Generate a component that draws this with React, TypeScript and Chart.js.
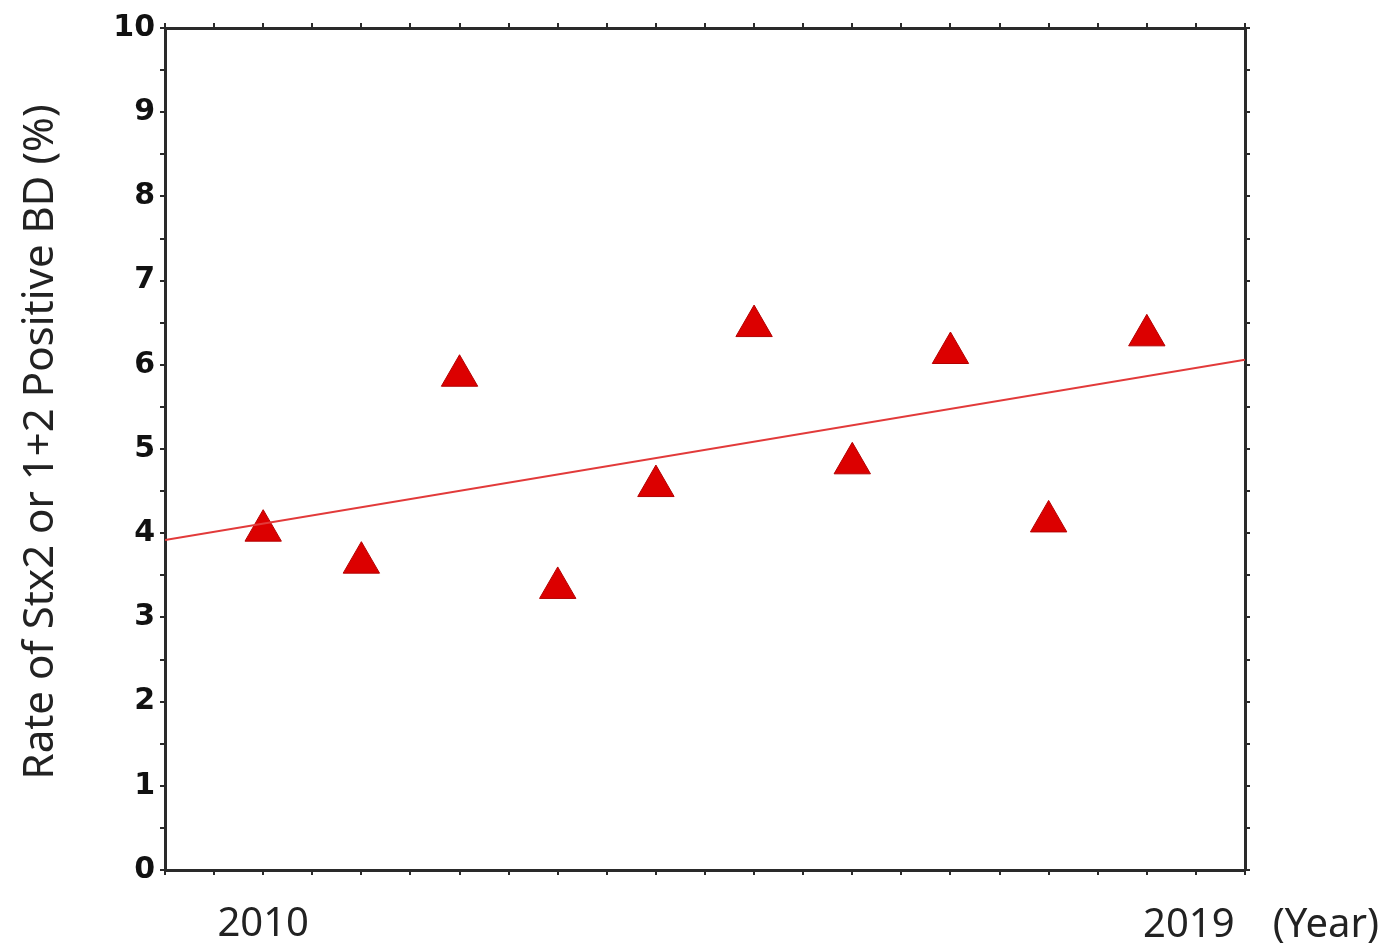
import React, { useEffect, useRef } from "react";
import { Chart, registerables } from "chart.js";

Chart.register(...registerables);

const years = [2010, 2011, 2012, 2013, 2014, 2015, 2016, 2017, 2018, 2019];
const rates = [4.03, 3.65, 5.87, 3.35, 4.56, 6.46, 4.83, 6.14, 4.14, 6.35];
const trendX = [2009, 2020];
const trendY = [3.92, 6.06];
const firstYearLabel = 2010;
const lastYearLabel = 2019;
const yTicks = [0, 1, 2, 3, 4, 5, 6, 7, 8, 9, 10];
const yTitle = "Rate of Stx2 or 1+2 Positive BD (%)";
const xUnit = "(Year)";

const AXIS = "#2a2a2a";

const textPlugin = {
  id: "extraText",
  afterDraw(chart: any) {
    const { ctx, chartArea } = chart;
    const xs = chart.scales.x;
    const base = chartArea.bottom + 67;
    ctx.save();
    ctx.font = '40px "Noto Sans"';
    ctx.fillStyle = "#222";
    ctx.textBaseline = "alphabetic";
    ctx.textAlign = "center";
    ctx.fillText(String(lastYearLabel), xs.getPixelForValue(lastYearLabel) + 42, base);
    ctx.textAlign = "left";
    ctx.fillText(xUnit, xs.getPixelForValue(lastYearLabel) + 126, base);
    // y axis title
    ctx.translate(53, (chartArea.top + chartArea.bottom) / 2 - 7);
    ctx.rotate(-Math.PI / 2);
    ctx.font = '42px "Noto Sans"';
    ctx.textAlign = "center";
    ctx.fillText(yTitle, 0, 0);
    ctx.restore();
  },
};

const halfSteps = (lo: number, hi: number) => {
  const t: any[] = [];
  for (let v = lo; v <= hi + 0.001; v += 0.5) t.push({ value: v });
  return t;
};

export default function App() {
  const ref = useRef<HTMLCanvasElement>(null);
  useEffect(() => {
    document.body.style.margin = "0";
    const c = ref.current!;
    const chart = new Chart(c, {
      type: "scatter",
      data: {
        datasets: [
          {
            type: "line",
            data: trendX.map((x, i) => ({ x, y: trendY[i] })),
            borderColor: "#e23a3a",
            borderWidth: 2,
            pointRadius: 0,
            fill: false,
          } as any,
          {
            data: years.map((x, i) => ({ x, y: rates[i] })),
            pointStyle: "triangle",
            pointRadius: 21,
            backgroundColor: "#dc0000",
            borderColor: "#b40000",
            borderWidth: 1,
          },
        ],
      },
      options: {
        animation: false,
        responsive: false,
        layout: { padding: 0 },
        plugins: { legend: { display: false }, tooltip: { enabled: false } },
        scales: {
          x: {
            type: "linear",
            position: "bottom",
            min: 2009,
            max: 2020,
            afterFit: (s: any) => { s.height = 82; },
            afterBuildTicks: (s: any) => { s.ticks = halfSteps(2009, 2020); },
            ticks: {
              autoSkip: false,
              maxRotation: 0,
              padding: 26,
              color: "#222",
              font: { family: "Noto Sans", size: 40 },
              callback: (v: any) => (v === firstYearLabel ? String(v) : ""),
            },
            grid: { drawOnChartArea: false, tickLength: 5, color: AXIS, lineWidth: 2 },
            border: { color: AXIS, width: 3 },
          },
          x2: {
            type: "linear",
            position: "top",
            min: 2009,
            max: 2020,
            afterFit: (s: any) => { s.height = 28; },
            afterBuildTicks: (s: any) => { s.ticks = halfSteps(2009, 2020); },
            ticks: { display: false },
            grid: { drawOnChartArea: false, tickLength: 5, color: AXIS, lineWidth: 2 },
            border: { color: AXIS, width: 3 },
          },
          y: {
            type: "linear",
            position: "left",
            min: 0,
            max: 10,
            afterFit: (s: any) => { s.width = 165; },
            afterBuildTicks: (s: any) => { s.ticks = halfSteps(0, 10); },
            ticks: {
              autoSkip: false,
              padding: 5,
              color: "#111",
              font: { family: "DejaVu Sans", size: 30, weight: "bold" },
              callback: (v: any) => (yTicks.includes(v) ? String(v) : ""),
            },
            grid: { drawOnChartArea: false, tickLength: 5, color: AXIS, lineWidth: 2 },
            border: { color: AXIS, width: 3 },
          },
          y2: {
            type: "linear",
            position: "right",
            min: 0,
            max: 10,
            afterFit: (s: any) => { s.width = 146; },
            afterBuildTicks: (s: any) => { s.ticks = halfSteps(0, 10); },
            ticks: { display: false },
            grid: { drawOnChartArea: false, tickLength: 5, color: AXIS, lineWidth: 2 },
            border: { color: AXIS, width: 3 },
          },
        },
      } as any,
      plugins: [textPlugin],
    });
    return () => chart.destroy();
  }, []);
  return <canvas ref={ref} width={1391} height={952} style={{ display: "block" }} />;
}
